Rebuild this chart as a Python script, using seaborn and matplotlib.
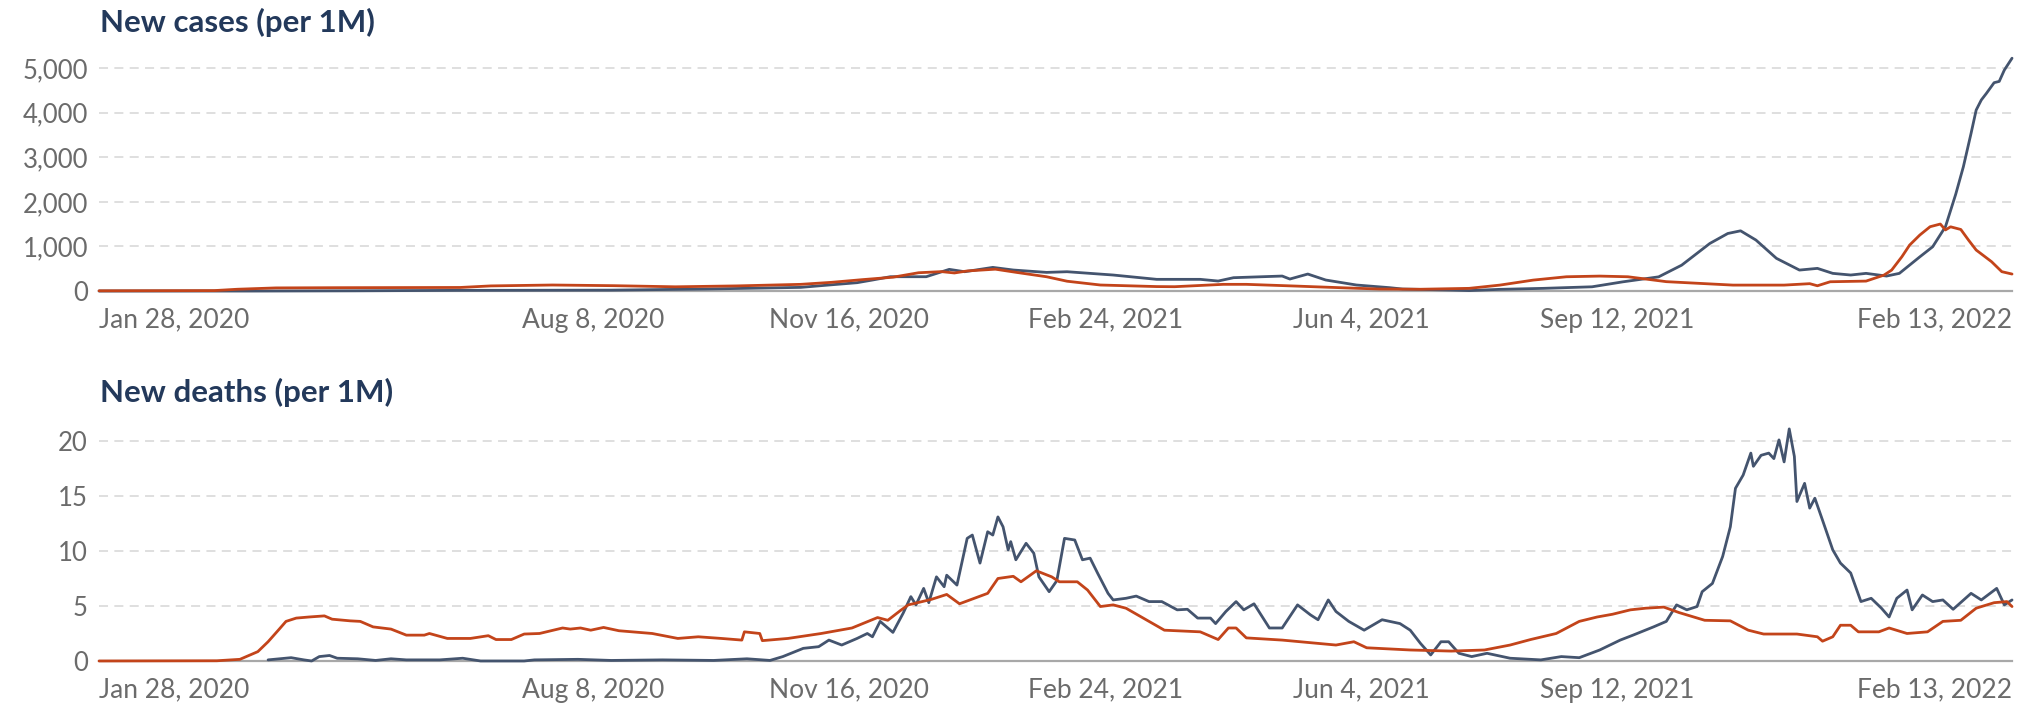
import pandas as pd
import matplotlib.pyplot as plt
import matplotlib.ticker as mticker
import seaborn as sns

# ---------------------------------------------------------------------------
# data (days counted from 2020-01-28)
# ---------------------------------------------------------------------------
start = pd.Timestamp('2020-01-28')
end = pd.Timestamp('2022-02-13')

# new cases per 1M - orange series
cases_b_days = [0, 45, 54, 69, 93, 141, 153, 177, 201, 225, 249, 274, 286, 298, 310,
                320, 329, 334, 339, 350, 358, 370, 378, 391, 413, 420, 439, 448, 468,
                474, 492, 500, 516, 535, 547, 560, 573, 586, 597, 612, 638, 658, 668,
                671, 676, 690, 697, 700, 704, 707, 711, 715, 719, 721, 723, 727, 730,
                733, 739, 743, 747]
cases_b = [5, 10, 40, 70, 75, 80, 115, 135, 120, 95, 115, 150, 195, 255, 310,
           410, 435, 405, 450, 490, 420, 320, 220, 135, 100, 97, 150, 150, 110,
           97, 60, 45, 40, 60, 133, 245, 320, 335, 320, 210, 133, 133, 165,
           118, 208, 223, 357, 470, 770, 1030, 1256, 1442, 1502, 1370, 1440, 1380, 1143,
           919, 658, 434, 381]

# new cases per 1M - slate series
cases_a_days = [0, 60, 100, 140, 200, 237, 262, 274, 286, 296, 302, 309, 323, 332, 338,
                344, 349, 357, 370, 378, 396, 413, 430, 437, 443, 462, 465, 472, 479,
                491, 504, 509, 528, 535, 547, 564, 583, 595, 609, 618, 629, 636, 641,
                647, 655, 664, 671, 677, 684, 690, 698, 703, 711, 716, 721, 725, 728,
                731, 733, 735, 737, 740, 742, 744, 747]
cases_a = [0, 0, 5, 15, 20, 45, 70, 82, 140, 187, 247, 321, 321, 486, 433,
           486, 530, 471, 418, 433, 359, 262, 262, 224, 299, 336, 269, 381, 247,
           135, 75, 45, 22, 10, 38, 60, 95, 206, 318, 580, 1067, 1290, 1350,
           1143, 733, 470, 508, 396, 359, 396, 336, 396, 767, 992, 1442, 2168, 2787,
           3535, 4058, 4283, 4432, 4671, 4700, 4955, 5220]

# new deaths per 1M - orange series
deaths_b_days = [0, 46, 55, 62, 66, 70, 73, 77, 82, 88, 91, 98, 102, 107, 114, 120, 127,
                 129, 136, 145, 152, 155, 161, 166, 172, 181, 184, 188, 192, 197, 203,
                 216, 226, 234, 243, 251, 252, 258, 259, 269, 282, 294, 304, 308, 313,
                 316, 325, 331, 336, 347, 351, 357, 360, 366, 372, 375, 382, 386, 391,
                 396, 401, 410, 416, 430, 437, 441, 444, 448, 462, 483, 490, 495, 512,
                 528, 541, 551, 559, 569, 578, 585, 591, 598, 604, 611, 617, 627, 637,
                 644, 650, 663, 671, 673, 677, 680, 684, 687, 695, 699, 706, 714, 720,
                 727, 733, 740, 745, 747]
deaths_b = [0, 0.02, 0.15, 0.85, 1.75, 2.8, 3.6, 3.9, 4.0, 4.1, 3.8, 3.65, 3.6, 3.1, 2.9,
            2.35, 2.35, 2.5, 2.05, 2.05, 2.3, 1.95, 1.95, 2.45, 2.5, 3.0, 2.9, 3.0, 2.8,
            3.05, 2.75, 2.5, 2.05, 2.2, 2.05, 1.9, 2.65, 2.5, 1.85, 2.05, 2.5, 3.0, 3.95,
            3.7, 4.6, 5.1, 5.6, 6.05, 5.2, 6.15, 7.5, 7.7, 7.2, 8.2, 7.65, 7.2, 7.2, 6.45,
            4.95, 5.1, 4.8, 3.6, 2.8, 2.65, 1.95, 3.0, 3.0, 2.1, 1.9, 1.45, 1.75, 1.2,
            1.0, 0.9, 1.0, 1.45, 1.95, 2.5, 3.6, 4.0, 4.25, 4.65, 4.8, 4.9, 4.4, 3.7,
            3.65, 2.8, 2.45, 2.45, 2.2, 1.8, 2.2, 3.25, 3.25, 2.65, 2.65, 3.0, 2.5, 2.65,
            3.6, 3.7, 4.8, 5.3, 5.4, 4.95]

# new deaths per 1M - slate series
deaths_a_days = [66, 75, 80, 83, 86, 90, 93, 101, 108, 114, 120, 133, 142, 149, 166, 170,
                 187, 200, 220, 240, 253, 262, 267, 275, 281, 285, 290, 296, 300, 302,
                 305, 309, 310, 314, 317, 319, 322, 324, 327, 330, 331, 335, 339, 341,
                 344, 347, 349, 351, 353, 355, 356, 358, 362, 365, 367, 371, 374, 377,
                 381, 384, 387, 390, 394, 396, 401, 405, 410, 415, 421, 425, 429, 434,
                 436, 440, 444, 447, 451, 457, 462, 468, 473, 476, 480, 483, 488, 494,
                 501, 508, 512, 516, 520, 524, 527, 531, 536, 542, 551, 563, 571, 578,
                 586, 594, 599, 607, 612, 616, 620, 624, 626, 630, 634, 637, 639, 642,
                 645, 646, 649, 652, 654, 656, 658, 660, 662, 663, 666, 668, 670, 673,
                 677, 680, 684, 688, 692, 696, 699, 702, 706, 708, 712, 716, 720, 724,
                 731, 735, 741, 744, 747]
deaths_a = [0.1, 0.3, 0.1, 0.0, 0.4, 0.5, 0.25, 0.2, 0.05, 0.2, 0.1, 0.1, 0.25, 0.0, 0.0, 0.1,
            0.15, 0.05, 0.1, 0.05, 0.2, 0.05, 0.4, 1.15, 1.3, 1.9, 1.45, 2.05, 2.5, 2.2,
            3.6, 2.8, 2.6, 4.35, 5.85, 5.1, 6.6, 5.3, 7.65, 6.75, 7.8, 6.9, 11.15, 11.45,
            8.9, 11.75, 11.45, 13.1, 12.2, 10.1, 10.85, 9.2, 10.7, 9.8, 7.65, 6.3, 7.3, 11.15,
            11.0, 9.2, 9.35, 7.95, 6.15, 5.55, 5.7, 5.9, 5.4, 5.4, 4.65, 4.7, 3.9, 3.9,
            3.4, 4.5, 5.4, 4.65, 5.2, 3.0, 3.0, 5.1, 4.2, 3.75, 5.55, 4.5, 3.6, 2.8,
            3.75, 3.4, 2.8, 1.6, 0.55, 1.75, 1.75, 0.7, 0.4, 0.7, 0.25, 0.1, 0.4, 0.3,
            1.0, 1.9, 2.35, 3.1, 3.6, 5.1, 4.65, 4.95, 6.3, 7.05, 9.5, 12.2, 15.7, 16.9,
            18.9, 17.7, 18.7, 18.9, 18.4, 20.1, 18.1, 21.1, 18.6, 14.5, 16.15, 13.9, 14.8, 12.8,
            10.1, 8.9, 8.0, 5.4, 5.7, 4.8, 4.0, 5.7, 6.45, 4.65, 6.0, 5.4, 5.55, 4.7,
            6.15, 5.55, 6.6, 5.1, 5.55]

tick_dates = ['2020-01-28', '2020-08-08', '2020-11-16', '2021-02-24',
              '2021-06-04', '2021-09-12', '2022-02-13']
tick_labels = ['Jan 28, 2020', 'Aug 8, 2020', 'Nov 16, 2020', 'Feb 24, 2021',
               'Jun 4, 2021', 'Sep 12, 2021', 'Feb 13, 2022']

cases_ticks = [0, 1000, 2000, 3000, 4000, 5000]
deaths_ticks = [0, 5, 10, 15, 20]

# ---------------------------------------------------------------------------
# styling
# ---------------------------------------------------------------------------
sns.set_style('white')
plt.rcParams['font.family'] = ['Lato', 'DejaVu Sans']

SLATE = '#44546e'
ORANGE = '#c3441a'
TITLE = '#23395b'
TICK = '#6b6b6b'
AXIS = '#a8a8a8'


def to_dates(days):
    return start + pd.to_timedelta(days, unit='D')


fig = plt.figure(figsize=(20.34, 7.04), dpi=100)
ax_cases = fig.add_axes([0.0487, 0.5866, 0.9405, 0.3358])
ax_deaths = fig.add_axes([0.0487, 0.0611, 0.9405, 0.3359])

panels = [
    (ax_cases, cases_a_days, cases_a, cases_b_days, cases_b, cases_ticks, 5300, 'New cases (per 1M)', 1 - 22 / 704),
    (ax_deaths, deaths_a_days, deaths_a, deaths_b_days, deaths_b, deaths_ticks, 21.5, 'New deaths (per 1M)', 1 - 392 / 704),
]

for ax, a_days, a_vals, b_days, b_vals, yticks, ytop, title, ty in panels:
    sns.lineplot(x=to_dates(a_days), y=a_vals, ax=ax, color=SLATE, lw=2.0, zorder=3)
    sns.lineplot(x=to_dates(b_days), y=b_vals, ax=ax, color=ORANGE, lw=2.0, zorder=4)
    for ln in ax.get_lines():
        ln.set_clip_on(False)

    ax.set_xlim(start, end)
    ax.set_ylim(0, ytop)
    ax.set_yticks(yticks)
    ax.yaxis.set_major_formatter(mticker.FuncFormatter(lambda v, _: f'{v:,.0f}'))
    ax.set_xticks(pd.to_datetime(tick_dates))
    ax.set_xticklabels(tick_labels)
    labels = ax.get_xticklabels()
    labels[0].set_ha('left')
    labels[-1].set_ha('right')

    ax.grid(axis='y', color='#dcdcdc', lw=1.3, linestyle=(0, (5, 3.5)))
    ax.grid(axis='x', visible=False)
    for side in ['left', 'right', 'top']:
        ax.spines[side].set_visible(False)
    ax.spines['bottom'].set_color(AXIS)
    ax.spines['bottom'].set_linewidth(1.6)

    ax.tick_params(axis='y', length=0, pad=8, labelsize=18.5, labelcolor=TICK)
    ax.tick_params(axis='x', length=6, width=1.2, color=AXIS, pad=6,
                   labelsize=19, labelcolor=TICK)
    ax.set_xlabel('')
    ax.set_ylabel('')

    fig.text(100 / 2034, ty, title, ha='left', va='center', fontsize=22.5,
             fontweight='bold', color=TITLE)

fig.savefig('out.png', dpi=100)
